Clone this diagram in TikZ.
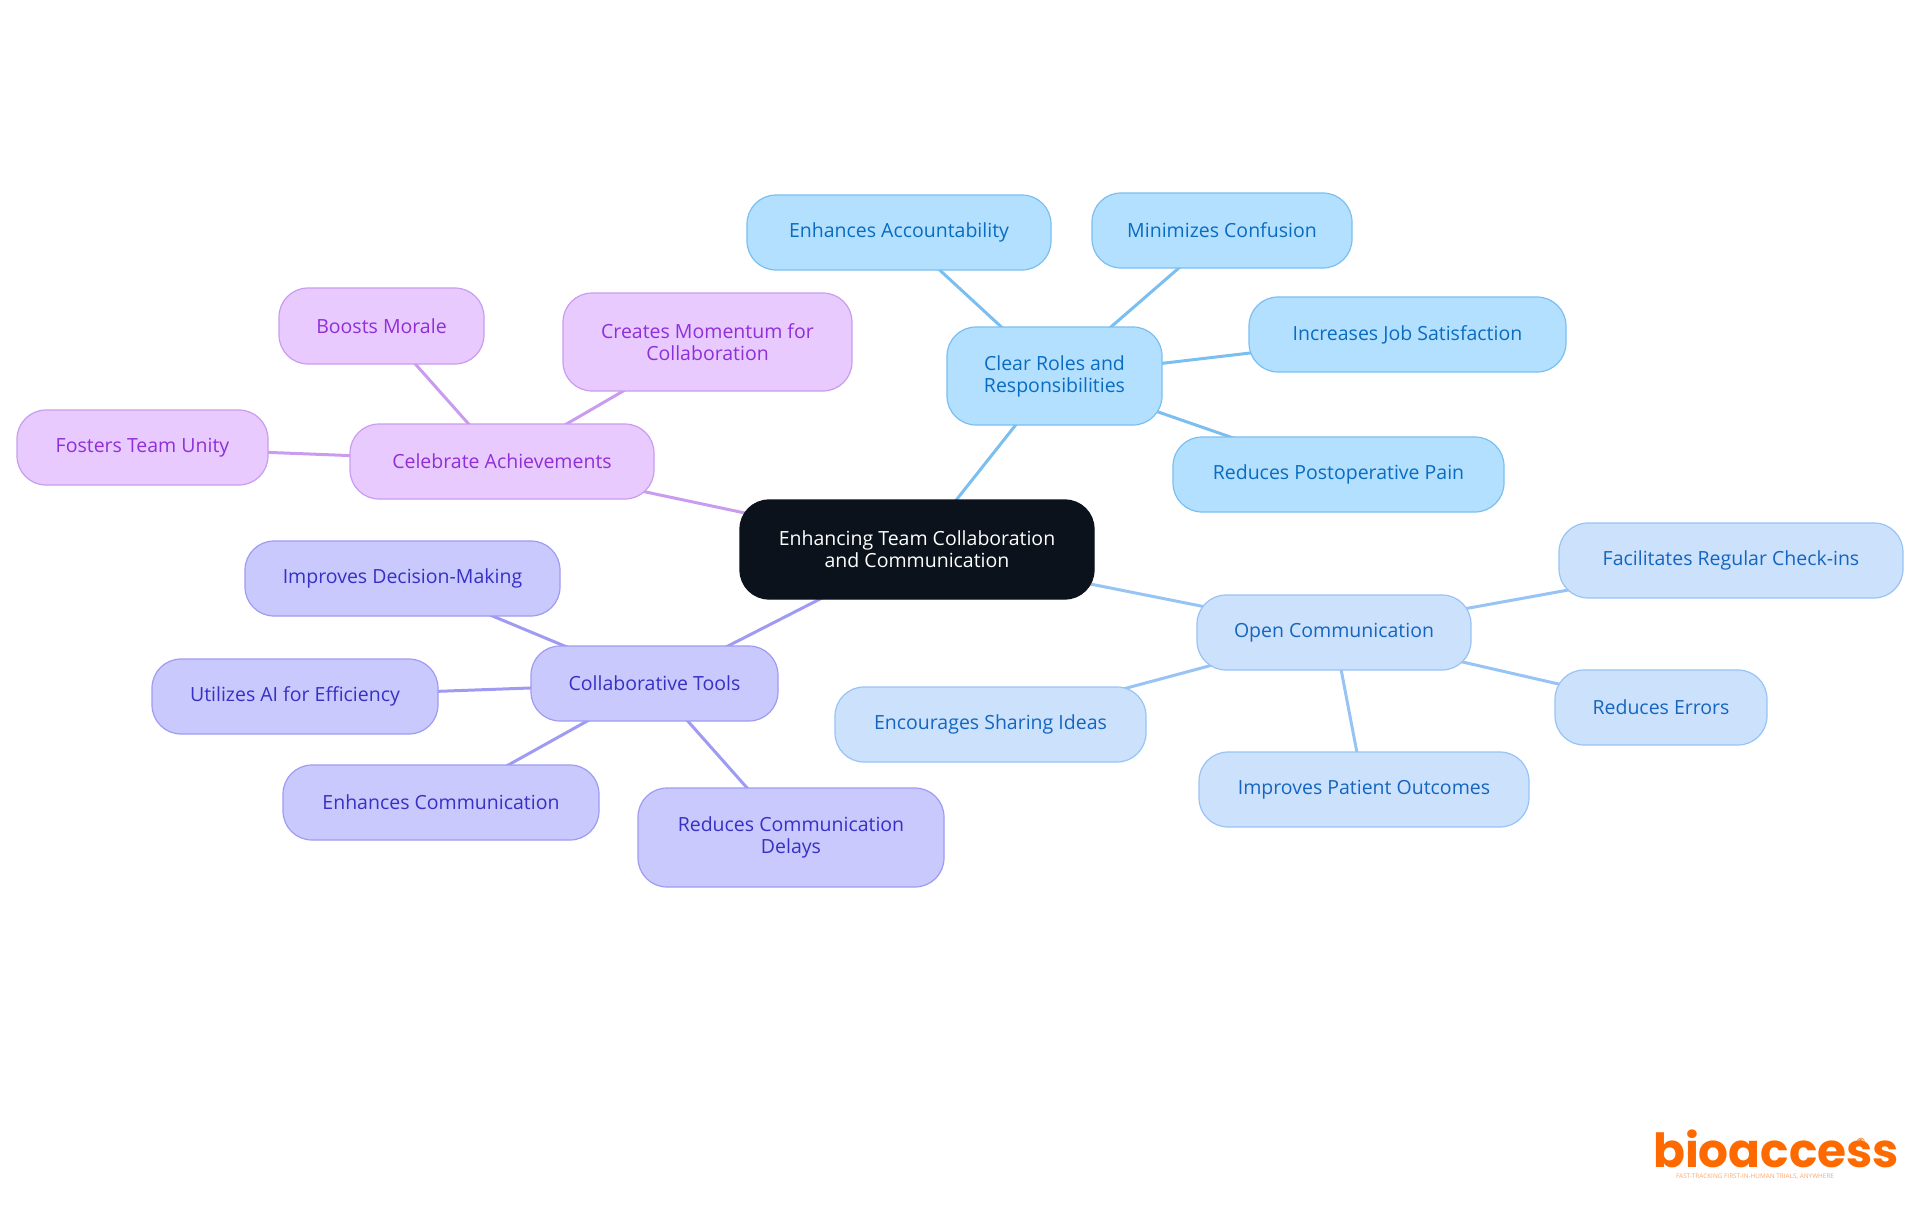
\documentclass[tikz,border=0pt]{standalone}
\usepackage{fontspec}
\setmainfont{Open Sans}
\newfontfamily\logofont{Poppins}
\usetikzlibrary{backgrounds}
\definecolor{rootfill}{HTML}{0B121B}
\definecolor{afill}{HTML}{B3E0FF}\definecolor{aline}{HTML}{7ABFF0}\definecolor{atext}{HTML}{0A6CC0}
\definecolor{bfill}{HTML}{CCE2FC}\definecolor{bline}{HTML}{98C3F5}\definecolor{btext}{HTML}{1565C0}
\definecolor{cfill}{HTML}{C9C9FE}\definecolor{cline}{HTML}{9F9BF3}\definecolor{ctext}{HTML}{3730C4}
\definecolor{dfill}{HTML}{E8CAFF}\definecolor{dline}{HTML}{C99CF0}\definecolor{dtext}{HTML}{8F2FD8}
\definecolor{logoorange}{HTML}{FF6A00}
\tikzset{
  x=1pt,y=-1pt,
  mm/.style={rectangle,rounded corners=29pt,inner sep=0pt,align=center,line width=1.2pt,
    font=\fontsize{19.5}{22}\selectfont,minimum height=75pt},
  rootnode/.style={mm,fill=rootfill,draw=rootfill,text=white,minimum height=99pt},
  na/.style={mm,fill=afill,draw=aline,text=atext},
  nb/.style={mm,fill=bfill,draw=bline,text=btext},
  nc/.style={mm,fill=cfill,draw=cline,text=ctext},
  nd/.style={mm,fill=dfill,draw=dline,text=dtext},
  ea/.style={draw=aline,line width=3pt},
  eb/.style={draw=bline,line width=3pt},
  ec/.style={draw=cline,line width=3pt},
  ed/.style={draw=dline,line width=3pt},
}
\begin{document}
\begin{tikzpicture}
\useasboundingbox (0,0) rectangle (1920,1215);
\node[rootnode,minimum width=354pt] (root) at (917,549.5) {Enhancing Team Collaboration\\and Communication};
\node[na,minimum width=215pt,minimum height=98pt] (roles) at (1054.5,376) {Clear Roles and\\Responsibilities};
\node[na,minimum width=304pt] (acc) at (899,232.5) {Enhances Accountability};
\node[na,minimum width=260pt] (conf) at (1222,230.5) {Minimizes Confusion};
\node[na,minimum width=317pt] (job) at (1407.5,334.5) {Increases Job Satisfaction};
\node[na,minimum width=331pt] (pain) at (1338.5,474.5) {Reduces Postoperative Pain};
\node[nb,minimum width=274pt] (open) at (1334,632.5) {Open Communication};
\node[nb,minimum width=344pt] (check) at (1731,560.5) {Facilitates Regular Check-ins};
\node[nb,minimum width=212pt] (err) at (1661,707.5) {Reduces Errors};
\node[nb,minimum width=330pt] (pat) at (1364,789.5) {Improves Patient Outcomes};
\node[nb,minimum width=311pt] (share) at (990.5,724.5) {Encourages Sharing Ideas};
\node[nc,minimum width=247pt] (tools) at (654.5,683.5) {Collaborative Tools};
\node[nc,minimum width=315pt] (deci) at (402.5,578.5) {Improves Decision-Making};
\node[nc,minimum width=286pt] (ai) at (295,696.5) {Utilizes AI for Efficiency};
\node[nc,minimum width=316pt] (comm) at (441,802.5) {Enhances Communication};
\node[nc,minimum width=306pt,minimum height=99pt] (delay) at (791,837.5) {Reduces Communication\\Delays};
\node[nd,minimum width=304pt] (cele) at (502,461.5) {Celebrate Achievements};
\node[nd,minimum width=205pt,minimum height=76pt] (morale) at (381.5,326) {Boosts Morale};
\node[nd,minimum width=289pt,minimum height=98pt] (momen) at (707.5,342) {Creates Momentum for\\Collaboration};
\node[nd,minimum width=251pt] (unity) at (142.5,447.5) {Fosters Team Unity};
\begin{pgfonlayer}{background}
\draw[ea] (root.center) -- (roles.center);
\draw[ea] (roles.center) -- (acc.center);
\draw[ea] (roles.center) -- (conf.center);
\draw[ea] (roles.center) -- (job.center);
\draw[ea] (roles.center) -- (pain.center);
\draw[eb] (root.center) -- (open.center);
\draw[eb] (open.center) -- (check.center);
\draw[eb] (open.center) -- (err.center);
\draw[eb] (open.center) -- (pat.center);
\draw[eb] (open.center) -- (share.center);
\draw[ec] (root.center) -- (tools.center);
\draw[ec] (tools.center) -- (deci.center);
\draw[ec] (tools.center) -- (ai.center);
\draw[ec] (tools.center) -- (comm.center);
\draw[ec] (tools.center) -- (delay.center);
\draw[ed] (root.center) -- (cele.center);
\draw[ed] (cele.center) -- (morale.center);
\draw[ed] (cele.center) -- (momen.center);
\draw[ed] (cele.center) -- (unity.center);
\end{pgfonlayer}
\node[anchor=base west,inner sep=0pt,text=logoorange,font=\logofont\bfseries\fontsize{47}{47}\selectfont] (logo) at (1653,1167) {bioaccess};
\node[anchor=center,inner sep=0pt,text=logoorange,font=\fontsize{10}{10}\selectfont\bfseries] (reg) at (1861,1142) {®};
\node[anchor=center,inner sep=0pt,text=logoorange!60,font=\fontsize{6.4}{7}\selectfont] (tag) at (1755,1177) {FAST-TRACKING FIRST-IN-HUMAN TRIALS, ANYWHERE};
\end{tikzpicture}
\end{document}
